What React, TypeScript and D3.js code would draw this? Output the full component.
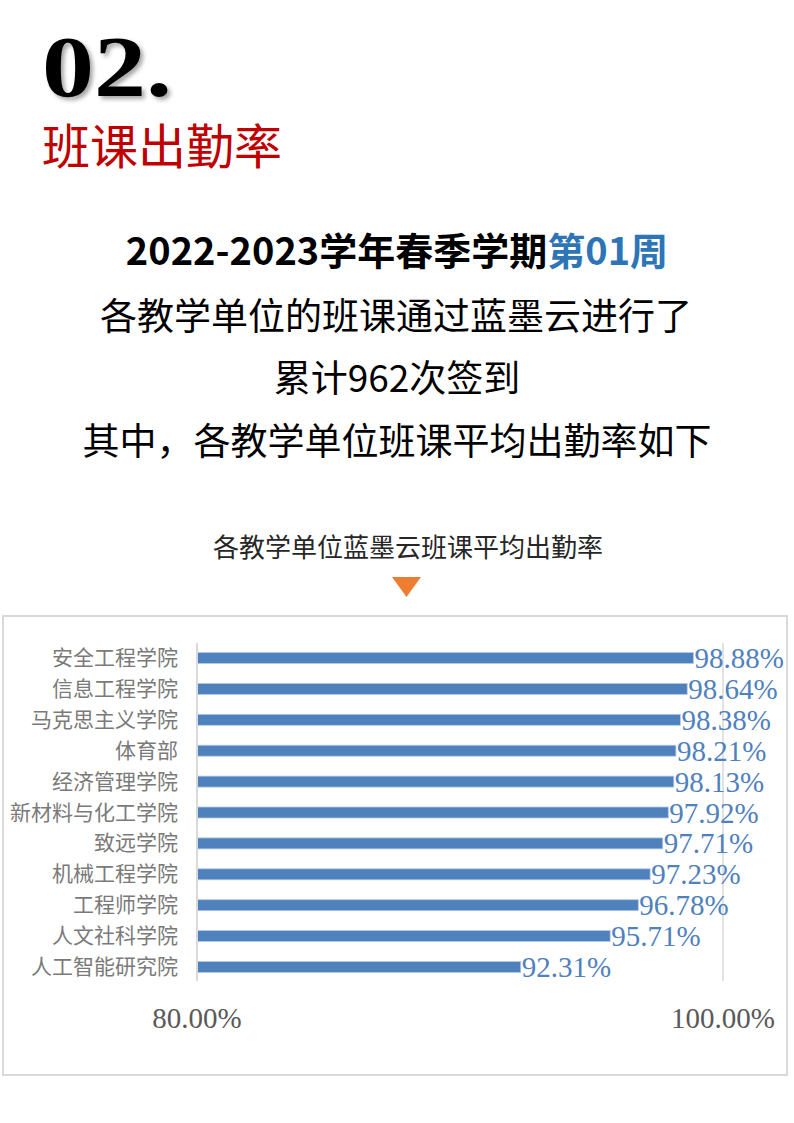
import React from "react";
import * as d3 from "d3";

// 各教学单位蓝墨云班课平均出勤率
const units = [
  "安全工程学院",
  "信息工程学院",
  "马克思主义学院",
  "体育部",
  "经济管理学院",
  "新材料与化工学院",
  "致远学院",
  "机械工程学院",
  "工程师学院",
  "人文社科学院",
  "人工智能研究院",
];
const rates = [98.88, 98.64, 98.38, 98.21, 98.13, 97.92, 97.71, 97.23, 96.78, 95.71, 92.31];
const xTicks = [80, 100];

const W = 794;
const H = 1123;

const cjk = "'Noto Sans CJK SC', 'Noto Sans', sans-serif";
const serif = "'Liberation Serif', 'DejaVu Serif', serif";

const App: React.FC = () => {
  const x = d3.scaleLinear().domain([80, 100]).range([197, 723]);
  const y = d3.scalePoint<string>().domain(units).range([658, 967]);
  const barH = 11;
  const axisTop = 643;
  const axisBottom = 981;

  return (
    <svg
      width={W}
      height={H}
      viewBox={`0 0 ${W} ${H}`}
      style={{ position: "absolute", left: 0, top: 0, background: "#fff" }}
    >
      <defs>
        <filter id="shadow" x="-10%" y="-10%" width="130%" height="130%">
          <feDropShadow dx="3" dy="3" stdDeviation="2" floodColor="#000" floodOpacity="0.35" />
        </filter>
      </defs>

      {/* 标题区 */}
      <text
        x={42}
        y={96}
        fontFamily={serif}
        fontWeight="bold"
        fontSize={86}
        textLength={130}
        lengthAdjust="spacingAndGlyphs"
        fill="#000"
        filter="url(#shadow)"
      >
        02.
      </text>
      <text x={42} y={164} fontFamily={cjk} fontSize={48} fill="#c00000">
        班课出勤率
      </text>

      <g fontFamily={cjk} textAnchor="middle" fill="#000">
        <text x={397} y={265} fontSize={38} fontWeight="bold">
          2022-2023学年春季学期<tspan fill="#2e75b6">第01周</tspan>
        </text>
        <text x={396} y={330} fontSize={37}>
          各教学单位的班课通过蓝墨云进行了
        </text>
        <text x={397} y={392} fontSize={37}>
          累计962次签到
        </text>
        <text x={397} y={455} fontSize={37}>
          其中，各教学单位班课平均出勤率如下
        </text>
        <text x={408} y={557} fontSize={26} fill="#262626">
          各教学单位蓝墨云班课平均出勤率
        </text>
      </g>
      <path d="M392,577 L421,577 L406.5,597 Z" fill="#ed7d31" />

      {/* 图表框 */}
      <rect x={3} y={616} width={784} height={459} fill="none" stroke="#d9d9d9" strokeWidth={2} />

      {/* 网格线与轴线 */}
      <line x1={x(100)} x2={x(100)} y1={axisTop} y2={axisBottom} stroke="#d9d9d9" strokeWidth={1.5} />

      {units.map((u, i) => {
        const cy = y(u)!;
        return (
          <g key={u}>
            <rect
              x={x(80)}
              y={cy - barH / 2}
              width={x(rates[i]) - x(80)}
              height={barH}
              fill="#4f81bd"
              stroke="#b4cbe8"
              strokeWidth={0.8}
            />
            <text
              x={178}
              y={cy + 7}
              textAnchor="end"
              fontFamily={cjk}
              fontSize={21}
              fill="#7a7a7a"
            >
              {u}
            </text>
            <text
              x={x(rates[i]) + 1}
              y={cy + 10}
              fontFamily={serif}
              fontSize={29}
              fill="#4f81bd"
            >
              {rates[i].toFixed(2)}%
            </text>
          </g>
        );
      })}

      <line x1={x(80)} x2={x(80)} y1={axisTop} y2={axisBottom} stroke="#d9d9d9" strokeWidth={2} />

      {xTicks.map((t) => (
        <text
          key={t}
          x={x(t)}
          y={1028}
          textAnchor="middle"
          fontFamily={serif}
          fontSize={29}
          fill="#595959"
        >
          {t.toFixed(2)}%
        </text>
      ))}
    </svg>
  );
};

export default App;
